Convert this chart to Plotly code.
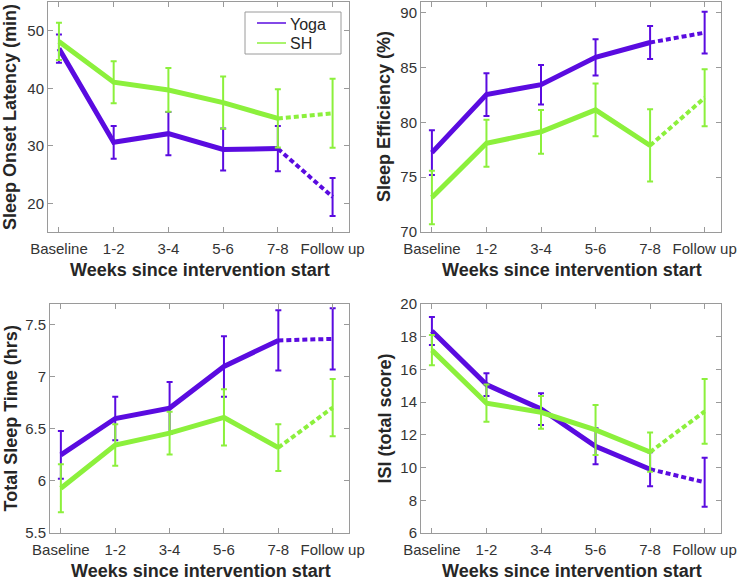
import plotly.graph_objects as go

# ---- data ----
weeks = ["Baseline", "1-2", "3-4", "5-6", "7-8", "Follow up"]
x_pos = [1, 2, 3, 4, 5, 6]
groups = ["Yoga", "SH"]

sol_yoga = [46.9, 30.6, 32.1, 29.35, 29.5, 21.1]
sol_yoga_err = [2.45, 2.85, 3.75, 3.65, 3.95, 3.3]
sol_sh = [48.15, 41.05, 39.7, 37.5, 34.75, 35.65]
sol_sh_err = [3.25, 3.65, 3.8, 4.55, 5.07, 6.0]

se_yoga = [77.25, 82.55, 83.45, 85.95, 87.3, 88.2]
se_yoga_err = [2.05, 1.95, 1.8, 1.65, 1.5, 1.9]
se_sh = [73.15, 78.1, 79.15, 81.15, 77.9, 82.25]
se_sh_err = [2.45, 2.15, 2.0, 2.4, 3.3, 2.6]

tst_yoga = [6.25, 6.6, 6.7, 7.1, 7.35, 7.365]
tst_yoga_err = [0.23, 0.21, 0.25, 0.29, 0.29, 0.295]
tst_sh = [5.93, 6.345, 6.46, 6.61, 6.32, 6.705]
tst_sh_err = [0.23, 0.2, 0.205, 0.27, 0.225, 0.275]

isi_yoga = [18.35, 15.07, 13.58, 11.3, 9.9, 9.1]
isi_yoga_err = [0.85, 0.7, 0.97, 1.1, 1.04, 1.5]
isi_sh = [17.18, 13.94, 13.38, 12.3, 10.95, 13.43]
isi_sh_err = [0.92, 1.14, 1.0, 1.53, 1.2, 1.98]

panels = [
    ("Sleep Onset Latency (min)", [15, 55], [20, 30, 40, 50],
     (sol_yoga, sol_yoga_err), (sol_sh, sol_sh_err)),
    ("Sleep Efficiency (%)", [70, 91], [70, 75, 80, 85, 90],
     (se_yoga, se_yoga_err), (se_sh, se_sh_err)),
    ("Total Sleep Time (hrs)", [5.5, 7.7], [5.5, 6, 6.5, 7, 7.5],
     (tst_yoga, tst_yoga_err), (tst_sh, tst_sh_err)),
    ("ISI (total score)", [6, 20], [6, 8, 10, 12, 14, 16, 18, 20],
     (isi_yoga, isi_yoga_err), (isi_sh, isi_sh_err)),
]

PURPLE = "#5a0be0"
GREEN = "#8cf03c"
AX = "#9a9a9a"
FONT = "Liberation Sans, Arial, sans-serif"
COLORS = [PURPLE, GREEN]

W, H = 744, 581
# pixel boxes (left, right, top, bottom)
boxes = [(48, 349, 2, 232), (421, 721, 2, 232), (50, 349, 304, 533), (421, 721, 304, 533)]
ytitle_x = [10, 384, 10, 384]

def px(x):
    return x / W

def py(y):
    return 1 - y / H

fig = go.Figure()
layout = dict(
    width=W, height=H, margin=dict(l=0, r=0, t=0, b=0, autoexpand=False),
    paper_bgcolor="white", plot_bgcolor="white",
    font=dict(family=FONT, size=15, color="#333333"),
    showlegend=False,
)
annotations = []
shapes = []

for i, (ytitle, yr, ytv, (yv, ye), (sv, se)) in enumerate(panels):
    n = i + 1
    xa = "x" if n == 1 else f"x{n}"
    ya = "y" if n == 1 else f"y{n}"
    l, r, t, b = boxes[i]
    for vals, errs, col, name in [(yv, ye, PURPLE, groups[0]), (sv, se, GREEN, groups[1])]:
        fig.add_trace(go.Scatter(
            x=x_pos, y=vals, mode="markers", xaxis=xa, yaxis=ya, name=name,
            marker=dict(size=1, opacity=0, color=col), hoverinfo="skip",
            error_y=dict(type="data", array=errs, visible=True, color=col, thickness=2, width=3)))
        fig.add_trace(go.Scatter(
            x=x_pos[:5], y=vals[:5], mode="lines", xaxis=xa, yaxis=ya,
            line=dict(color=col, width=5), name=name))
        fig.add_trace(go.Scatter(
            x=x_pos[4:], y=vals[4:], mode="lines", xaxis=xa, yaxis=ya,
            line=dict(color=col, width=4, dash="5px,3px"), name=name))

    axis_common = dict(showline=True, linecolor=AX, linewidth=1, mirror="ticks",
                       ticks="inside", ticklen=5, tickcolor=AX, showgrid=False, zeroline=False,
                       automargin=False,
                       tickfont=dict(family=FONT, size=15, color="#333333"))
    layout["xaxis" if n == 1 else f"xaxis{n}"] = dict(
        domain=[px(l), px(r)], anchor=ya, range=[0.8, 6.3],
        tickvals=x_pos, ticktext=weeks, ticklabelstandoff=3, **axis_common)
    layout["yaxis" if n == 1 else f"yaxis{n}"] = dict(
        domain=[py(b), py(t)], anchor=xa, range=yr,
        tickvals=ytv, ticktext=[f"{v:g}" for v in ytv], **axis_common)

    annotations.append(dict(
        text="<b>Weeks since intervention start</b>", xref="paper", yref="paper",
        x=px((l + r) / 2 + 1), y=py(b + 38), xanchor="center", yanchor="middle",
        showarrow=False, font=dict(family=FONT, size=18, color="#262626")))
    annotations.append(dict(
        text=f"<b>{ytitle}</b>", xref="paper", yref="paper",
        x=px(ytitle_x[i]), y=py((t + b) / 2), xanchor="center", yanchor="middle",
        textangle=-90, showarrow=False, font=dict(family=FONT, size=18, color="#262626")))

# legend box (top-left panel)
shapes.append(dict(type="rect", xref="paper", yref="paper",
                   x0=px(245), x1=px(341), y0=py(54), y1=py(12),
                   line=dict(color=AX, width=1), fillcolor="white", layer="above"))
for k, (name, col) in enumerate(zip(groups, COLORS)):
    yy = 23 + 20 * k
    shapes.append(dict(type="line", xref="paper", yref="paper",
                       x0=px(257), x1=px(286), y0=py(yy), y1=py(yy),
                       line=dict(color=col, width=1.5), layer="above"))
    annotations.append(dict(
        text=name, xref="paper", yref="paper", x=px(288), y=py(yy + 1),
        xanchor="left", yanchor="middle", showarrow=False,
        font=dict(family=FONT, size=16, color="#262626")))

layout["annotations"] = annotations
layout["shapes"] = shapes
fig.update_layout(**layout)
fig.write_html("out.html", config={"displayModeBar": False},
               post_script="document.body.style.margin='0';document.body.style.overflow='hidden';")
